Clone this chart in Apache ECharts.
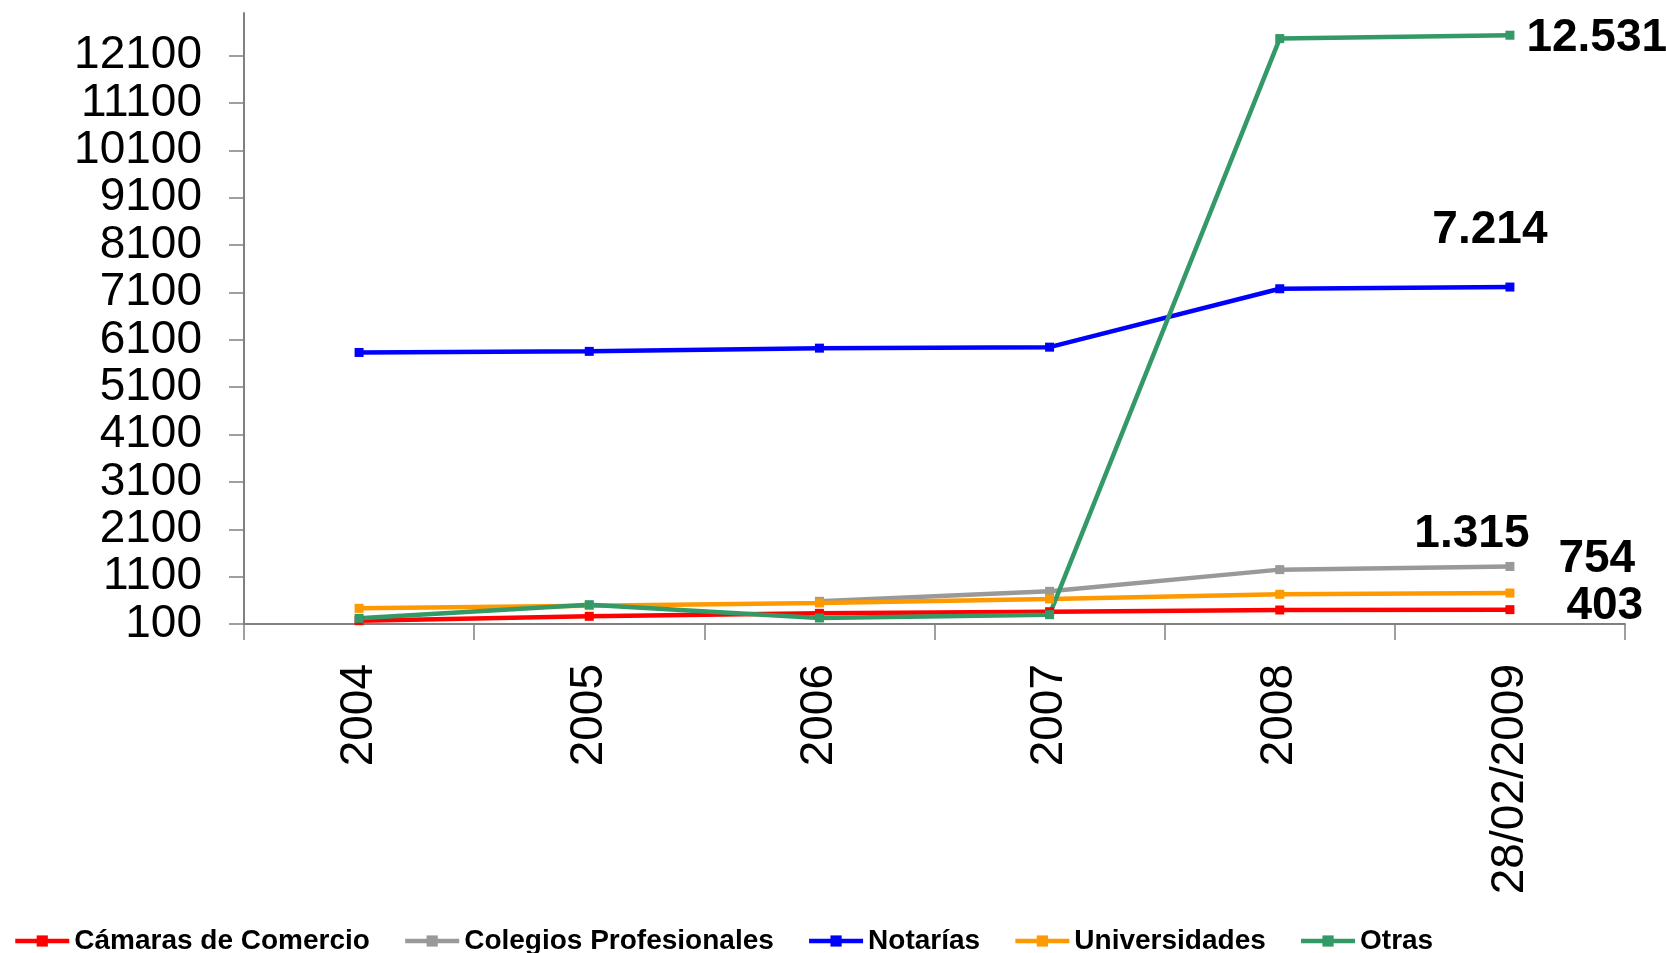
<!DOCTYPE html>
<html>
<head>
<meta charset="utf-8">
<script src="https://cdn.jsdelivr.net/npm/echarts@6/dist/echarts.min.js"></script>
<style>
  html, body { margin: 0; padding: 0; background: #fff; }
  #chart { width: 1666px; height: 953px; }
</style>
</head>
<body>
<div id="chart"></div>
<script>
// categorias del eje x
const years = ['2004', '2005', '2006', '2007', '2008', '28/02/2009'];
// marcas del eje y
const yTicks = [100, 1100, 2100, 3100, 4100, 5100, 6100, 7100, 8100, 9100, 10100, 11100, 12100];

// valores de cada serie
const camaras = [170, 262, 325, 360, 396, 403];
const colegios = [null, null, 579, 790, 1248, 1315];
const notarias = [5833, 5856, 5924, 5945, 7178, 7214];
const universidades = [431, 487, 544, 628, 727, 754];
const otras = [220, 508, 227, 297, 12460, 12531];

const fontFam = 'Arial, "Liberation Sans", sans-serif';

function fmt(v) {
    return String(v).replace(/\B(?=(\d{3})+(?!\d))/g, '.');
}

// solo la etiqueta del ultimo punto
function withLastLabel(values, labelOpt) {
    return values.map(function (v, i) {
        if (i !== values.length - 1) return v;
        return {
            value: v,
            label: Object.assign({
                show: true,
                color: '#000',
                fontSize: 46,
                fontWeight: 'bold',
                fontFamily: fontFam,
                formatter: function (p) { return fmt(p.value); }
            }, labelOpt)
        };
    });
}

function mkSeries(name, color, values, labelOpt) {
    return {
        name: name,
        type: 'line',
        data: withLastLabel(values, labelOpt),
        symbol: 'rect',
        symbolSize: 9,
        lineStyle: { color: color, width: 4.5 },
        itemStyle: { color: color },
        connectNulls: false,
        animation: false
    };
}

let myChart = echarts.init(document.getElementById('chart'));
myChart.setOption({
    animation: false,
    grid: { left: 244, right: 41, top: 13, bottom: 329 },
    legend: {
        left: 8,
        top: 922,
        itemWidth: 54,
        itemHeight: 14,
        itemGap: 33,
        lineStyle: { width: 4.5 },
        textStyle: { color: '#000', fontSize: 28, fontWeight: 'bold', fontFamily: fontFam },
        data: ['Cámaras de Comercio', 'Colegios Profesionales', 'Notarías', 'Universidades', 'Otras']
    },
    xAxis: {
        type: 'category',
        data: years,
        boundaryGap: true,
        axisLine: { lineStyle: { color: '#808080', width: 2 } },
        axisTick: { show: true, interval: 0, length: 16, lineStyle: { color: '#808080', width: 1.5 } },
        axisLabel: {
            rotate: 90,
            margin: 40,
            interval: 0,
            color: '#000',
            fontSize: 46,
            fontFamily: fontFam
        }
    },
    yAxis: {
        type: 'value',
        min: 100,
        max: 13000,
        splitLine: { show: false },
        axisLine: { show: true, lineStyle: { color: '#808080', width: 2 } },
        axisTick: { show: true, length: 15, customValues: yTicks, lineStyle: { color: '#808080', width: 1.5 } },
        axisLabel: {
            customValues: yTicks,
            margin: 42,
            color: '#000',
            fontSize: 46,
            fontFamily: fontFam,
            formatter: function (v) { return String(v); }
        }
    },
    series: [
        mkSeries('Cámaras de Comercio', '#FF0000', camaras, { position: 'right', offset: [47, -3] }),
        mkSeries('Colegios Profesionales', '#999999', colegios, { position: 'top', offset: [-38, 0] }),
        mkSeries('Notarías', '#0000FF', notarias, { position: 'top', offset: [-20, -24] }),
        mkSeries('Universidades', '#FF9900', universidades, { position: 'right', offset: [39, -34] }),
        mkSeries('Otras', '#339966', otras, { position: 'right', offset: [7, 3] })
    ]
});
</script>
</body>
</html>
